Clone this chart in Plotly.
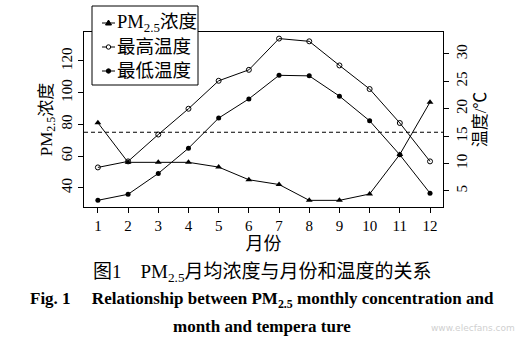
import plotly.graph_objects as go

# Monthly data
months = list(range(1, 13))
pm25 = [81, 56, 56, 56, 53, 45, 42, 32, 32, 36, 61, 94]
t_max = [9.3, 10.4, 15.3, 20.0, 25.1, 27.1, 32.8, 32.3, 27.9, 23.6, 17.4, 10.4]
t_min = [3.3, 4.4, 8.2, 12.8, 18.3, 21.8, 26.1, 26.0, 22.3, 17.8, 11.6, 4.6]
pm_standard = 75

series_names = ["PM<sub>2.5</sub>浓度", "最高温度", "最低温度"]
left_ticks = [40, 60, 80, 100, 120]
right_ticks = [5, 10, 15, 20, 25, 30]

FONT = "Liberation Serif, Noto Sans CJK SC"
W, H = 523, 341
ML, MR, MT, MB = 84, 80, 32, 134
plot_w = W - ML - MR
plot_h = H - MT - MB


def px(pix):
    # page pixel column -> paper x
    return (pix - ML) / plot_w


def py(pix):
    # page pixel row -> paper y
    return (H - MB - pix) / plot_h


line = dict(color="black", width=1)
fig = go.Figure()
fig.add_trace(go.Scatter(
    x=months, y=pm25, name=series_names[0], mode="lines+markers",
    line=line, marker=dict(symbol="triangle-up", size=6, color="black"),
    yaxis="y"))
fig.add_trace(go.Scatter(
    x=months, y=t_max, name=series_names[1], mode="lines+markers",
    line=line, marker=dict(symbol="circle-open", size=5, color="black",
                           line=dict(width=1)),
    yaxis="y2"))
fig.add_trace(go.Scatter(
    x=months, y=t_min, name=series_names[2], mode="lines+markers",
    line=line, marker=dict(symbol="circle", size=5, color="black"),
    yaxis="y2"))

# PM2.5 reference level
fig.add_shape(type="line", xref="paper", x0=0, x1=1, yref="y",
              y0=pm_standard, y1=pm_standard,
              line=dict(color="black", width=1, dash="4px,3px"))

# Compact boxed legend in the upper-left corner
fig.add_shape(type="rect", xref="paper", yref="paper",
              x0=px(92), x1=px(198), y0=py(6), y1=py(85),
              line=dict(color="black", width=1), fillcolor="white",
              layer="above")
row_y = [23, 47, 71]
for i, (name, yy) in enumerate(zip(series_names, row_y)):
    fig.add_shape(type="line", xref="paper", yref="paper",
                  x0=px(102), x1=px(115), y0=py(yy), y1=py(yy),
                  line=dict(color="black", width=1), layer="above")
    cx = 108.5
    if i == 0:
        fig.add_shape(type="path", xref="paper", yref="paper",
                      path=(f"M {px(cx - 3)},{py(yy + 2)} L {px(cx + 3)},{py(yy + 2)} "
                            f"L {px(cx)},{py(yy - 3)} Z"),
                      line=dict(color="black", width=1), fillcolor="black",
                      layer="above")
    else:
        fig.add_shape(type="circle", xref="paper", yref="paper",
                      x0=px(cx - 2.2), x1=px(cx + 2.2),
                      y0=py(yy + 2.2), y1=py(yy - 2.2),
                      line=dict(color="black", width=1),
                      fillcolor="white" if i == 1 else "black", layer="above")
    fig.add_annotation(text=name, xref="paper", yref="paper",
                       x=px(115), y=py(yy), xanchor="left", yanchor="middle",
                       showarrow=False,
                       font=dict(family=FONT, size=18.5, color="black"))

axis_common = dict(showgrid=False, zeroline=False, ticks="outside", ticklen=5,
                   tickwidth=1, tickcolor="black", linecolor="black",
                   linewidth=1, tickfont=dict(family=FONT, size=15, color="black"))

fig.update_layout(
    width=W, height=H,
    margin=dict(l=ML, r=MR, t=MT, b=MB, pad=0),
    paper_bgcolor="white", plot_bgcolor="white",
    font=dict(family=FONT, color="black"),
    xaxis=dict(range=[0.54, 12.43], tickvals=months, showline=True,
               mirror=True, title=dict(text="月份", standoff=3,
                                        font=dict(size=18)),
               **axis_common),
    yaxis=dict(range=[27.8, 138.3], tickvals=left_ticks, tickangle=-90,
               showline=True, mirror=True,
               title=dict(text="PM<sub>2.5</sub>浓度", standoff=2,
                          font=dict(size=17)),
               **axis_common),
    yaxis2=dict(range=[2.08, 34.0], tickvals=right_ticks, tickangle=-90,
                overlaying="y", side="right", showline=True,
                title=dict(text="温度/℃", standoff=5, font=dict(size=17)),
                **axis_common),
    showlegend=False,
)

captions = [
    ("图1　PM<sub>2.5</sub>月均浓度与月份和温度的关系", 273, 19, False),
    ("Fig. 1　 Relationship between PM<sub>2.5</sub> monthly concentration and", 300, 17, True),
    ("month and tempera ture", 326, 17, True),
]
for text, pix, size, bold in captions:
    fig.add_annotation(
        text=f"<b>{text}</b>" if bold else text,
        xref="paper", yref="paper", x=px(262), y=py(pix),
        xanchor="center", yanchor="middle", showarrow=False,
        font=dict(family=FONT, size=size, color="black"))

fig.add_annotation(text="www.elecfans.com", xref="paper", yref="paper",
                   x=px(517), y=py(328), xanchor="right",
                   yanchor="middle", showarrow=False,
                   font=dict(family="DejaVu Sans", size=9, color="#d0d0d0"))

fig.write_html("out.html")
